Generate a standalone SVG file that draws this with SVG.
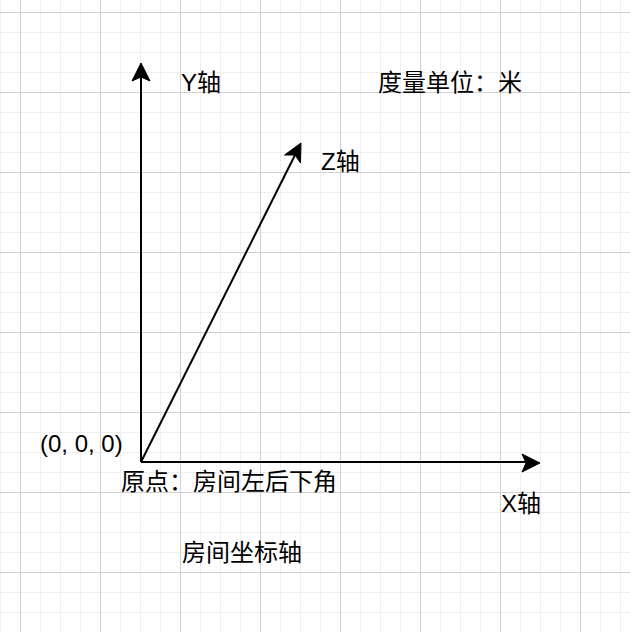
<svg xmlns="http://www.w3.org/2000/svg" width="630" height="632" viewBox="0 0 630 632">
  <style>
    .axis { stroke: #000; stroke-width: 2; fill: none; }
    .head { fill: #000; stroke: #000; stroke-width: 1; stroke-linejoin: miter; }
    .lbl { font-family: 'Liberation Sans', 'Noto Sans CJK SC', sans-serif; font-size: 24px; fill: #000; }
  </style>
  <defs>
    <pattern id="grid" patternUnits="userSpaceOnUse" x="20" y="12" width="80" height="80">
      <path d="M20.5 0V80M40.5 0V80M60.5 0V80M0 20.5H80M0 40.5H80M0 60.5H80" stroke="#efefef" stroke-width="1" fill="none"/>
      <path d="M0.5 0V80M0 0.5H80" stroke="#d0d0d0" stroke-width="1" fill="none"/>
    </pattern>
  </defs>
  <rect width="630" height="632" fill="#fff"/>
  <rect width="630" height="632" fill="url(#grid)"/>
  <g id="connectors">
    <path class="axis" d="M141 462V76"/>
    <path class="head" d="M141 63L150 81L141 77L132 81Z"/>
    <path class="axis" d="M141 462H528"/>
    <path class="head" d="M540 463L522 472L526 463L522 454Z"/>
    <path class="axis" d="M141 462L295 155"/>
    <path class="head" d="M301 143L300.5 163L295 155L284.5 155Z"/>
  </g>
  <g id="y-label"><text class="lbl" x="181" y="91">Y轴</text></g>
  <g id="z-label"><text class="lbl" x="321" y="170">Z轴</text></g>
  <g id="x-label"><text class="lbl" x="501" y="512">X轴</text></g>
  <g id="unit"><text class="lbl" x="378" y="91">度量单位：米</text></g>
  <g id="origin-coord"><text class="lbl" x="40" y="452">(0, 0, 0)</text></g>
  <g id="origin-desc"><text class="lbl" x="121" y="490">原点：房间左后下角</text></g>
  <g id="title"><text class="lbl" x="182" y="561">房间坐标轴</text></g>
</svg>
